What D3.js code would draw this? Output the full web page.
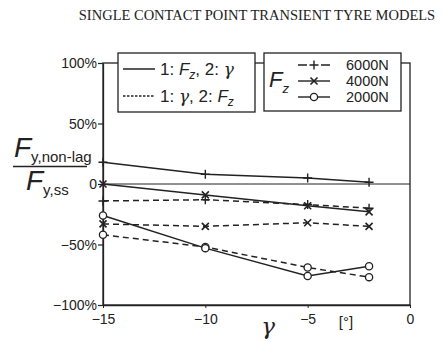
<!DOCTYPE html>
<html>
<head>
<meta charset="utf-8">
<script src="https://cdn.jsdelivr.net/npm/d3@7"></script>
<style>
  html, body { margin: 0; padding: 0; background: #fff; }
  svg { display: block; }
  text { font-family: "Liberation Sans", Arial, sans-serif; fill: #222; }
</style>
</head>
<body>
<svg id="chart" width="443" height="342"></svg>
<script>
// Camber angle (deg) at which each model was evaluated
const camber = [-15, -10, -5, -2];
// Vertical load series
const loads = ["6000N", "4000N", "2000N"];
const markers = ["plus", "cross", "circle"];
// Ratio F_y,non-lag / F_y,ss in percent, model order 1: Fz, 2: gamma (solid)
const solid6000 = [18, 8, 5, 1.5];
const solid4000 = [0, -9, -18, -23];
const solid2000 = [-26, -53, -76, -68];
// Model order 1: gamma, 2: Fz (dashed)
const dashed6000 = [-14, -13, -17, -20];
const dashed4000 = [-33, -35, -32, -35];
const dashed2000 = [-42, -52, -69, -77];
// Axis ticks
const yTicks = [-100, -50, 0, 50, 100];
const xTicks = [-15, -10, -5, 0];

const svg = d3.select("#chart");
const ink = "#222";
const greek = "'DejaVu Serif', 'Liberation Serif', serif";

const x = d3.scaleLinear().domain([-15, 0]).range([103, 410]);
const y = d3.scaleLinear().domain([-100, 100]).range([305, 63]);

// Title
svg.append("text")
  .attr("x", 257).attr("y", 20)
  .attr("text-anchor", "middle")
  .style("font-family", "'Liberation Serif', 'Times New Roman', serif")
  .style("font-size", "14.5px")
  .text("SINGLE CONTACT POINT TRANSIENT TYRE MODELS");

// Plot frame
svg.append("rect")
  .attr("x", x(-15)).attr("y", y(100))
  .attr("width", x(0) - x(-15)).attr("height", y(-100) - y(100))
  .attr("fill", "none").attr("stroke", ink).attr("stroke-width", 1.3);

// Zero reference line
svg.append("line")
  .attr("x1", x(-15)).attr("x2", x(0))
  .attr("y1", y(0)).attr("y2", y(0))
  .attr("stroke", ink).attr("stroke-width", 1);

// Y axis
const fmtY = d => d === 0 ? "0" : String(d).replace("-", "\u2212") + "%";
const yAxis = svg.append("g")
  .attr("transform", `translate(${x(-15)},0)`)
  .call(d3.axisLeft(y).tickValues(yTicks).tickSize(5).tickSizeOuter(0).tickFormat(fmtY));
yAxis.select(".domain").attr("stroke", ink).attr("stroke-width", 1.3);
yAxis.selectAll(".tick line").attr("stroke", ink).attr("stroke-width", 1.2);
yAxis.selectAll(".tick text")
  .attr("x", -6).attr("dy", "0.35em")
  .style("font-size", "14px").style("font-family", "'Liberation Sans', Arial, sans-serif").attr("fill", ink);

// X axis
const fmtX = d => d === 0 ? "0" : String(d).replace("-", "\u2212");
const xAxis = svg.append("g")
  .attr("transform", `translate(0,${y(-100)})`)
  .call(d3.axisBottom(x).tickValues(xTicks).tickSize(3).tickSizeOuter(0).tickFormat(fmtX));
xAxis.select(".domain").attr("stroke", ink).attr("stroke-width", 1.3);
xAxis.selectAll(".tick line").attr("stroke", ink);
xAxis.selectAll(".tick text")
  .attr("y", 9)
  .style("font-size", "14px").style("font-family", "'Liberation Sans', Arial, sans-serif").attr("fill", ink);

// X axis title
svg.append("text")
  .attr("x", 268).attr("y", 334)
  .attr("text-anchor", "middle")
  .style("font-family", greek)
  .style("font-style", "italic")
  .style("font-size", "23px")
  .text("\u03b3");
svg.append("text")
  .attr("x", 346).attr("y", 327)
  .attr("text-anchor", "middle")
  .style("font-size", "15px")
  .text("[\u00b0]");

// Y axis title as a fraction
const ylab = svg.append("g");
const num = ylab.append("text").attr("x", 14).attr("y", 157);
num.append("tspan").style("font-style", "italic").style("font-size", "28px").text("F");
num.append("tspan").attr("dy", 5).style("font-size", "15px").text("y,non-lag");
ylab.append("line")
  .attr("x1", 13).attr("x2", 87).attr("y1", 166.5).attr("y2", 166.5)
  .attr("stroke", ink).attr("stroke-width", 1.3);
const den = ylab.append("text").attr("x", 26).attr("y", 190);
den.append("tspan").style("font-style", "italic").style("font-size", "28px").text("F");
den.append("tspan").attr("dy", 5).style("font-size", "15px").text("y,ss");

// Marker drawing
function drawMarker(g, type, cx, cy) {
  if (type === "plus") {
    g.append("path").attr("d", `M${cx - 4.5},${cy}H${cx + 4.5}M${cx},${cy - 4.5}V${cy + 4.5}`)
      .attr("stroke", ink).attr("stroke-width", 1.4).attr("fill", "none");
  } else if (type === "cross") {
    g.append("path").attr("d", `M${cx - 3.5},${cy - 3.5}L${cx + 3.5},${cy + 3.5}M${cx - 3.5},${cy + 3.5}L${cx + 3.5},${cy - 3.5}`)
      .attr("stroke", ink).attr("stroke-width", 1.6).attr("fill", "none");
  } else {
    g.append("circle").attr("cx", cx).attr("cy", cy).attr("r", 3.6)
      .attr("fill", "#fff").attr("stroke", ink).attr("stroke-width", 1.3);
  }
}

const seriesList = [
  { vals: dashed6000, marker: "plus", dash: true },
  { vals: dashed4000, marker: "cross", dash: true },
  { vals: dashed2000, marker: "circle", dash: true },
  { vals: solid6000, marker: "plus", dash: false },
  { vals: solid4000, marker: "cross", dash: false },
  { vals: solid2000, marker: "circle", dash: false }
];

const line = d3.line().x(d => x(d[0])).y(d => y(d[1]));
const data = svg.append("g");
seriesList.forEach(s => {
  const pts = camber.map((c, i) => [c, s.vals[i]]);
  data.append("path")
    .attr("d", line(pts))
    .attr("fill", "none")
    .attr("stroke", ink)
    .attr("stroke-width", 1.5)
    .attr("stroke-dasharray", s.dash ? "6,4" : null);
});
seriesList.forEach(s => {
  camber.forEach((c, i) => drawMarker(data, s.marker, x(c), y(s.vals[i])));
});

// Legend 1: model order
const lg1 = svg.append("g");
lg1.append("rect").attr("x", 118).attr("y", 53).attr("width", 137).attr("height", 59)
  .attr("fill", "#fff").attr("stroke", ink).attr("stroke-width", 1.3);
// each part: [text, style] where style is "n" normal, "i" italic, "g" greek, "s" subscript
const orders = [
  { dash: false, parts: [["1: ", "n"], ["F", "i"], ["z", "s"], [", 2: ", "n"], ["\u03b3", "g"]] },
  { dash: true, parts: [["1: ", "n"], ["\u03b3", "g"], [", 2: ", "n"], ["F", "i"], ["z", "s"]] }
];
orders.forEach((o, i) => {
  const ly = 69 + i * 27;
  lg1.append("line").attr("x1", 123).attr("x2", 155).attr("y1", ly).attr("y2", ly)
    .attr("stroke", ink).attr("stroke-width", 1.5)
    .attr("stroke-dasharray", o.dash ? "2.5,1.5" : null);
  const t = lg1.append("text").attr("x", 160).attr("y", ly + 6).style("font-size", "17px");
  let lowered = false;
  o.parts.forEach(p => {
    const ts = t.append("tspan").text(p[0]);
    if (p[1] === "s") {
      ts.attr("dy", 4).style("font-size", "12px").style("font-style", "italic");
      lowered = true;
      return;
    }
    if (lowered) { ts.attr("dy", -4); lowered = false; }
    if (p[1] === "i") ts.style("font-style", "italic");
    if (p[1] === "g") ts.style("font-style", "italic").style("font-family", greek);
  });
});

// Legend 2: vertical load
const lg2 = svg.append("g");
lg2.append("rect").attr("x", 264).attr("y", 53).attr("width", 137).attr("height", 58)
  .attr("fill", "#fff").attr("stroke", ink).attr("stroke-width", 1.3);
const fz = lg2.append("text").attr("x", 269).attr("y", 87);
fz.append("tspan").style("font-style", "italic").style("font-size", "22px").text("F");
fz.append("tspan").attr("dy", 6).style("font-style", "italic").style("font-size", "13px").text("z");
loads.forEach((name, i) => {
  const ly = 65 + i * 16;
  const cx = 314;
  if (markers[i] === "plus") {
    lg2.append("path").attr("d", `M298,${ly}H307M321,${ly}H330`)
      .attr("stroke", ink).attr("stroke-width", 1.4);
  } else {
    lg2.append("line").attr("x1", 298).attr("x2", 330).attr("y1", ly).attr("y2", ly)
      .attr("stroke", ink).attr("stroke-width", 1.4);
  }
  drawMarker(lg2, markers[i], cx, ly);
  lg2.append("text").attr("x", 346).attr("y", ly + 5).style("font-size", "14.5px").text(name);
});
</script>
</body>
</html>
